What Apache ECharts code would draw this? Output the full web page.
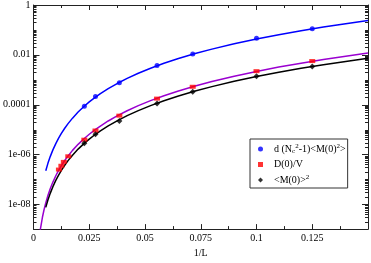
<!DOCTYPE html>
<html><head><meta charset="utf-8">
<script src="https://cdn.jsdelivr.net/npm/echarts@6/dist/echarts.min.js"></script>
<style>html,body{margin:0;padding:0;background:#fff}#c{width:371px;height:263px}</style>
</head><body><div id="c"></div>
<script>
// ---- data ----
var legendNames = ['d (N_c^2-1)<M(0)^2>', 'D(0)/V', '<M(0)>^2'];
var xPts = [0.0228, 0.0278, 0.0385, 0.0554, 0.0714, 0.1, 0.125];
var bluePts = [8.6e-5, 2.1e-4, 7.5e-4, 3.7e-3, 0.0108, 0.0457, 0.112];
var blackPts = [2.8e-6, 6.4e-6, 2.2e-5, 1.1e-4, 3.3e-4, 1.38e-3, 3.4e-3];
var redX = [0.0114, 0.0125, 0.0136, 0.0156, 0.0228, 0.0278, 0.0385, 0.0554, 0.0714, 0.1, 0.125];
var redPts = [2.46e-7, 3.5e-7, 5.0e-7, 8.4e-7, 3.9e-6, 9.1e-6, 3.6e-5, 1.74e-4, 5.2e-4, 2.2e-3, 5.6e-3];
var fitX = [0.0055, 0.0065, 0.0075, 0.0087, 0.01, 0.0112, 0.0125, 0.014, 0.0155, 0.0175, 0.02, 0.0225, 0.025, 0.0275, 0.03, 0.0335, 0.0375, 0.042, 0.047, 0.0525, 0.0585, 0.065, 0.0725, 0.08, 0.09, 0.1, 0.11, 0.12, 0.13, 0.14, 0.15];
var blueFit = [2.21e-7, 4.47e-7, 8.15e-7, 1.52e-6, 2.72e-6, 4.38e-6, 6.95e-6, 1.12e-5, 1.72e-5, 2.86e-5, 5.01e-5, 8.22e-5, 1.28e-4, 1.91e-4, 2.75e-4, 4.37e-4, 7.02e-4, 1.13e-3, 1.81e-3, 2.88e-3, 4.55e-3, 7.08e-3, 0.0112, 0.0169, 0.0277, 0.0432, 0.0644, 0.0929, 0.130, 0.177, 0.237];
var blackFit = [7.46e-9, 1.50e-8, 2.72e-8, 5.05e-8, 9.04e-8, 1.45e-7, 2.29e-7, 3.67e-7, 5.61e-7, 9.31e-7, 1.63e-6, 2.65e-6, 4.12e-6, 6.14e-6, 8.81e-6, 1.40e-5, 2.23e-5, 3.59e-5, 5.73e-5, 9.10e-5, 1.43e-4, 2.21e-4, 3.49e-4, 5.27e-4, 8.61e-4, 1.34e-3, 1.99e-3, 2.86e-3, 3.99e-3, 5.43e-3, 7.24e-3];
var magentaFitX = [0.003, 0.004, 0.0047].concat(fitX);
var magentaFit = [8.9e-10, 2.99e-9, 5.86e-9, 1.13e-8, 2.28e-8, 4.16e-8, 7.74e-8, 1.39e-7, 2.23e-7, 3.53e-7, 5.68e-7, 8.69e-7, 1.45e-6, 2.53e-6, 4.15e-6, 6.44e-6, 9.61e-6, 1.38e-5, 2.20e-5, 3.52e-5, 5.68e-5, 9.08e-5, 1.45e-4, 2.28e-4, 3.53e-4, 5.58e-4, 8.43e-4, 1.38e-3, 2.15e-3, 3.21e-3, 4.61e-3, 6.46e-3, 8.79e-3, 0.0117];
var xTickLabels = {'0': '0', '0.025': '0.025', '0.05': '0.05', '0.075': '0.075', '0.1': '0.1', '0.125': '0.125'};
var yTickLabels = {'0': '1', '-2': '0.01', '-4': '0.0001', '-6': '1e-06', '-8': '1e-08'};
var yMajorTicks = [1, 1e-2, 1e-4, 1e-6, 1e-8];

function zip(xs, ys) { return xs.map(function (x, i) { return [x, ys[i]]; }); }
var tickData = [];
yMajorTicks.forEach(function (v) { tickData.push([0, v, 6]); });
for (var n = -9; n < 0; n++) {
  for (var k = 2; k <= 10; k++) {
    var v = k * Math.pow(10, n);
    var e = Math.round(Math.log10(v));
    if (k === 10 && yTickLabels[String(e)] !== undefined) continue;
    tickData.push([0, v, 3]);
  }
}
var FONT = 'Liberation Serif';
var chart = echarts.init(document.getElementById('c'), null, {renderer: 'canvas'});
var xCommon = {type: 'value', min: 0, max: 0.15, interval: 0.025,
  axisLine: {show: true, onZero: false, lineStyle: {color: '#222', width: 1}},
  axisTick: {show: true, inside: true, length: 5, lineStyle: {color: '#222'}},
  minorTick: {show: true, splitNumber: 2, length: 3, lineStyle: {color: '#222'}},
  splitLine: {show: false}};
var yCommon = {type: 'log', min: 1e-9, max: 1, logBase: 10,
  axisLine: {show: true, onZero: false, lineStyle: {color: '#222', width: 1}},
  axisTick: {show: false}, minorTick: {show: false}, splitLine: {show: false}};
var richBase = {fontFamily: FONT, fontSize: 10, color: '#000', lineHeight: 12};
chart.setOption({
  animation: false,
  backgroundColor: '#fff',
  grid: {left: 29, right: 1, top: 4, bottom: 22, containLabel: false},
  xAxis: [
    Object.assign({}, xCommon, {position: 'bottom', name: '1/L', nameLocation: 'middle', nameGap: 17,
      nameTextStyle: {fontFamily: FONT, fontSize: 10, color: '#000'},
      axisLabel: {show: true, margin: 4, fontFamily: FONT, fontSize: 10, color: '#000',
        formatter: function (v) { var s = String(+v.toFixed(4)); return xTickLabels[s] !== undefined ? xTickLabels[s] : ''; }}}),
    Object.assign({}, xCommon, {position: 'top', axisLabel: {show: false}})
  ],
  yAxis: [
    Object.assign({}, yCommon, {position: 'left',
      axisLabel: {show: true, margin: 3, fontFamily: FONT, fontSize: 10, color: '#000',
        formatter: function (v) { var e = Math.round(Math.log10(v)); var s = yTickLabels[String(e)]; return s !== undefined ? s : ''; }}}),
    Object.assign({}, yCommon, {position: 'right', axisLabel: {show: false}})
  ],
  legend: {
    data: legendNames, orient: 'vertical', left: 250, top: 139,
    padding: [4, 2, 2, 8], itemGap: 3.5, itemWidth: 5, itemHeight: 5,
    backgroundColor: '#fff', borderColor: '#333', borderWidth: 1, borderRadius: 0,
    textStyle: {fontFamily: FONT, fontSize: 10, color: '#000', lineHeight: 12,
      rich: {
        f: Object.assign({}, richBase, {padding: [0, 0, 0, 6]}),
        t: richBase,
        sup: {fontFamily: FONT, fontSize: 7, color: '#000', lineHeight: 7, verticalAlign: 'top'},
        sub: {fontFamily: FONT, fontSize: 7, color: '#000', lineHeight: 7, verticalAlign: 'bottom'}
      }},
    formatter: function (name) {
      if (name === legendNames[0]) return '{f|d (N}{sub|c}{sup|2}{t|-1)<M(0)}{sup|2}{t|>}';
      if (name === legendNames[2]) return '{f|<M(0)>}{sup|2}';
      return '{f|' + name + '}';
    }
  },
  series: [
    {type: 'custom', name: 'yticks', silent: true, xAxisIndex: 0, yAxisIndex: 0, data: tickData, z: 1,
      renderItem: function (params, api) {
        var v = api.value(1), len = api.value(2);
        var pl = api.coord([0, v]), pr = api.coord([0.15, v]);
        var y = Math.round(pl[1]) + 0.5;
        return {type: 'group', children: [
          {type: 'line', shape: {x1: pl[0], y1: y, x2: pl[0] + len, y2: y}, style: {stroke: '#222', lineWidth: 1}},
          {type: 'line', shape: {x1: pr[0], y1: y, x2: pr[0] - len, y2: y}, style: {stroke: '#222', lineWidth: 1}}
        ]};
      }},
    {type: 'line', name: 'fitBlue', data: zip(fitX, blueFit), showSymbol: false, smooth: false,
      clip: true, lineStyle: {color: '#0000ff', width: 1.5}, itemStyle: {color: '#0000ff'}, z: 2},
    {type: 'line', name: 'fitMagenta', data: zip(magentaFitX, magentaFit), showSymbol: false, smooth: false,
      clip: true, lineStyle: {color: '#9a00d0', width: 1.5}, itemStyle: {color: '#9a00d0'}, z: 2},
    {type: 'line', name: 'fitBlack', data: zip(fitX, blackFit), showSymbol: false, smooth: false,
      clip: true, lineStyle: {color: '#000000', width: 1.5}, itemStyle: {color: '#000'}, z: 2},
    {type: 'scatter', name: legendNames[0], data: zip(xPts, bluePts), symbol: 'circle', symbolSize: 5,
      itemStyle: {color: '#0000ff'}, z: 3},
    {type: 'scatter', name: legendNames[1], data: zip(redX, redPts), symbol: 'rect', symbolSize: [6, 4],
      itemStyle: {color: '#ff0000'}, z: 3},
    {type: 'scatter', name: legendNames[2], data: zip(xPts, blackPts), symbol: 'diamond', symbolSize: 6,
      itemStyle: {color: '#000000'}, z: 4}
  ]
});
</script></body></html>
